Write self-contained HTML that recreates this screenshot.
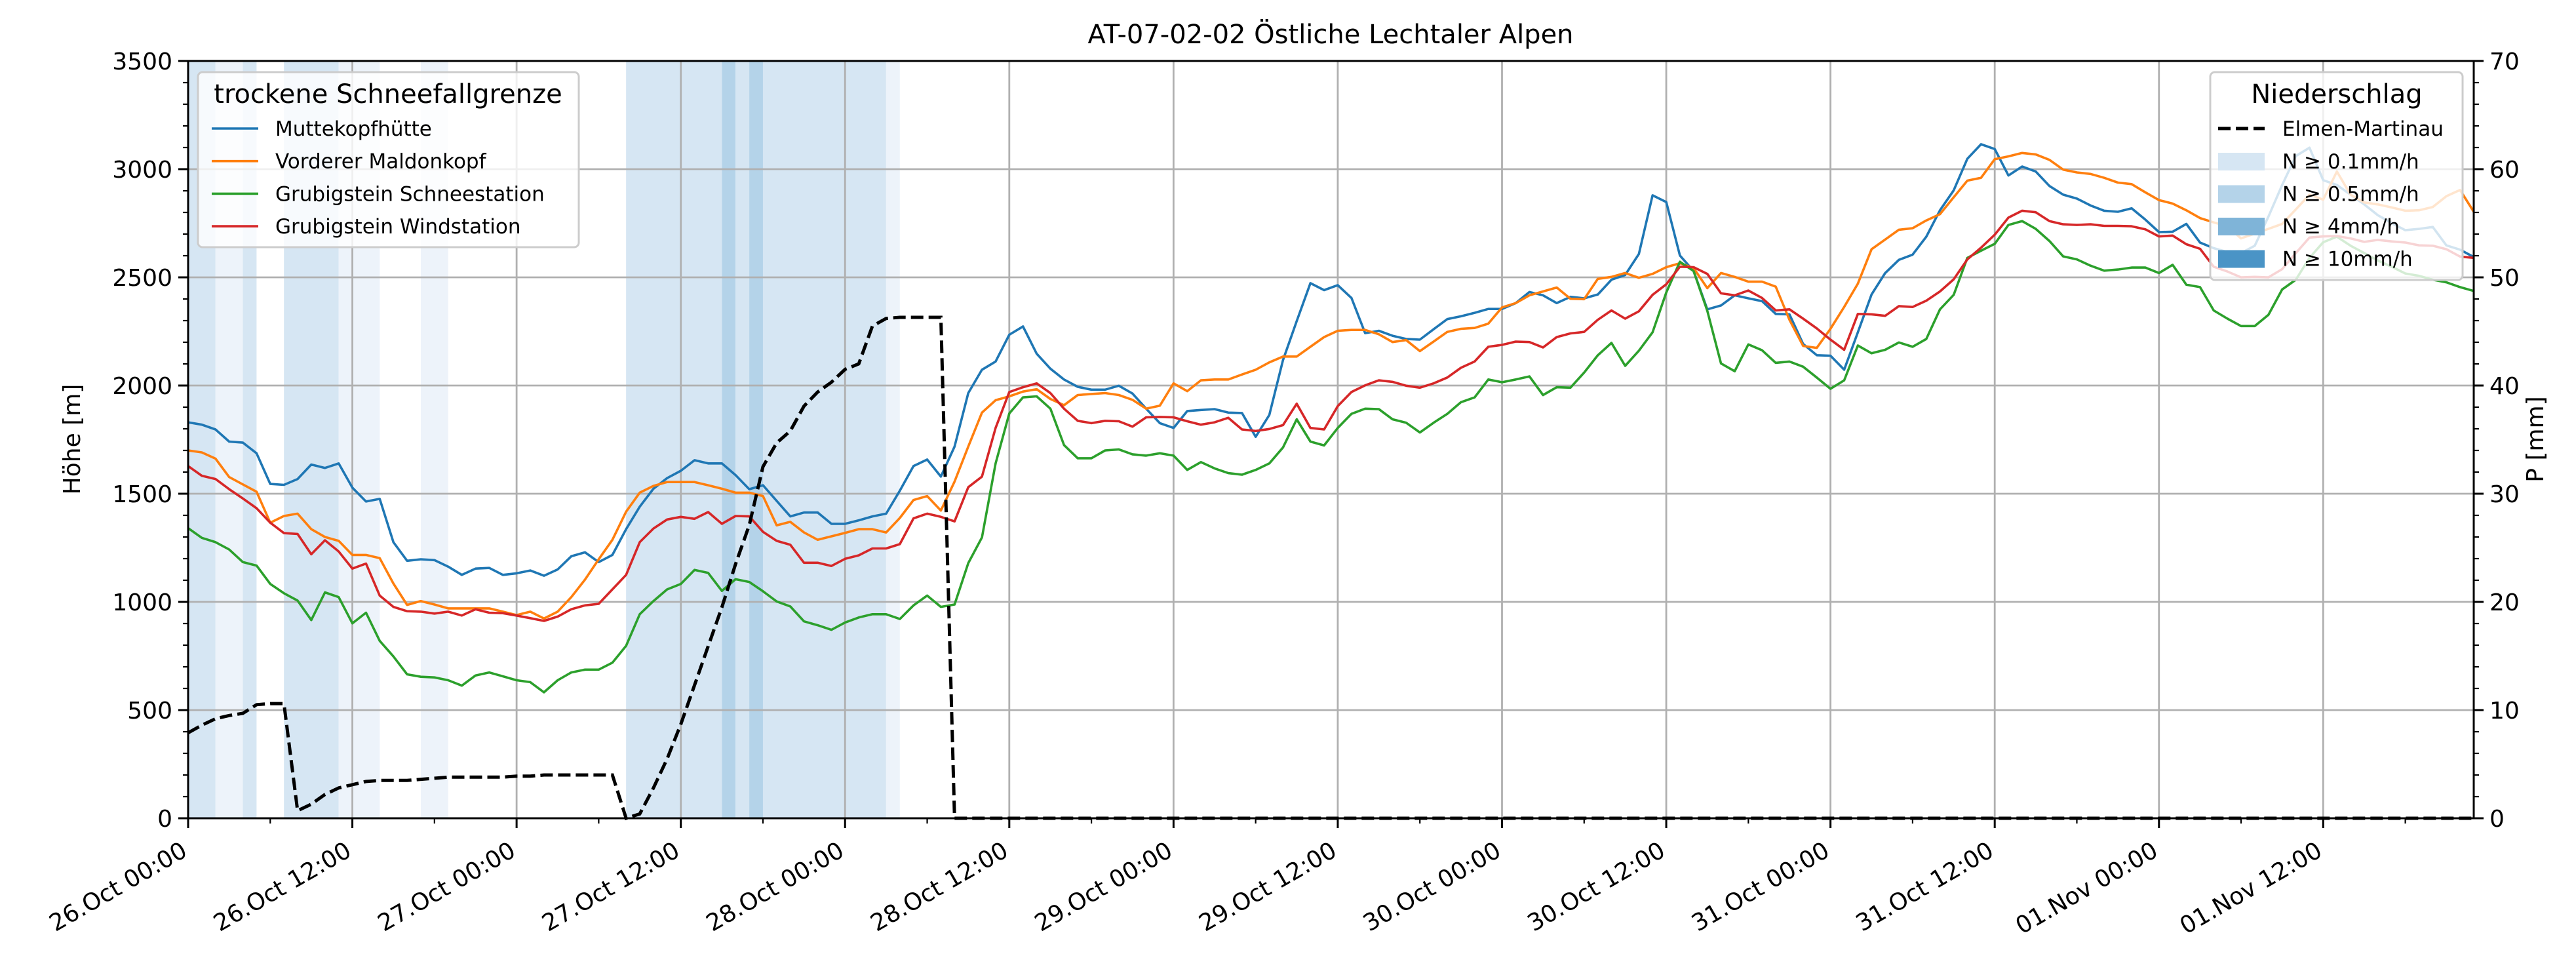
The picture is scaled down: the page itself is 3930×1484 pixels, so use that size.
<!DOCTYPE html>
<html><head><meta charset="utf-8">
<style>
html,body{margin:0;padding:0;background:#fff;}
svg{display:block;font-family:"DejaVu Sans","Liberation Sans",sans-serif;}
</style></head>
<body>
<svg id="chart" width="3930" height="1484" viewBox="0 0 3930 1484" xmlns="http://www.w3.org/2000/svg">
<rect x="0" y="0" width="3930" height="1484" fill="#fff"/>
<text x="2030" y="66" font-size="40" text-anchor="middle">AT-07-02-02 Östliche Lechtaler Alpen</text>
<text transform="translate(122 670) rotate(-90)" font-size="36" text-anchor="middle">Höhe [m]</text>
<text transform="translate(3880 670) rotate(-90)" font-size="36" text-anchor="middle">P [mm]</text>
<g id="bands"></g>
<g id="grid"></g>
<g id="series"></g>
<g id="axes"></g>
<g id="legend1"></g>
<g id="legend2"></g>
</svg>
<script>
// ---- data ----
const xTickLabels = ["26.Oct 00:00","26.Oct 12:00","27.Oct 00:00","27.Oct 12:00","28.Oct 00:00","28.Oct 12:00","29.Oct 00:00","29.Oct 12:00","30.Oct 00:00","30.Oct 12:00","31.Oct 00:00","31.Oct 12:00","01.Nov 00:00","01.Nov 12:00"];
const yTicks = [0,500,1000,1500,2000,2500,3000,3500];
const y2Ticks = [0,10,20,30,40,50,60,70];
const seriesNames = ["Muttekopfhütte","Vorderer Maldonkopf","Grubigstein Schneestation","Grubigstein Windstation"];
const muttekopf = [1830,1819,1797,1741,1736,1687,1545,1541,1568,1635,1619,1640,1528,1464,1476,1276,1190,1197,1193,1163,1125,1154,1157,1125,1132,1145,1121,1150,1211,1229,1184,1217,1336,1440,1523,1572,1606,1655,1640,1640,1586,1521,
1539,1467,1395,1413,1413,1361,1361,1377,1395,1408,1514,1628,1658,1579,1718,1965,2073,2111,2235,2273,2147,2078,2028,1994,1981,1981,1999,1963,1893,1826,1804,1882,1887,1891,1875,1873,1763,1864,2118,2298,2473,2441,2464,
2405,2242,2253,2230,2215,2212,2260,2307,2320,2336,2354,2354,2381,2432,2417,2381,2410,2403,2421,2489,2511,2608,2879,2848,2601,2529,2352,2370,2417,2403,2390,2331,2329,2192,2140,2138,2073,2246,2421,2520,2581,2605,
2688,2810,2902,3048,3115,3093,2971,3012,2989,2922,2882,2864,2832,2808,2803,2819,2767,2709,2711,2747,2661,2635,2617,2612,2646,2781,2927,3061,3099,2949,2927,2882,2837,2787,2751,2718,2724,2733,2648,2628,2594];
const maldonkopf = [1700,1691,1662,1577,1543,1509,1366,1397,1408,1336,1300,1282,1217,1217,1202,1085,986,1004,988,970,970,970,970,955,939,955,923,955,1022,1103,1197,1287,1417,1505,1536,1554,1554,1554,1539,1523,1505,1505,1489,
1354,1370,1321,1287,1303,1319,1336,1336,1321,1388,1471,1489,1422,1556,1718,1875,1932,1950,1972,1983,1938,1909,1956,1961,1965,1956,1934,1893,1907,2010,1974,2024,2028,2028,2051,2073,2107,2134,2134,2179,2224,2253,
2257,2257,2237,2201,2210,2159,2203,2248,2262,2266,2286,2361,2381,2417,2435,2453,2401,2399,2493,2502,2520,2498,2516,2547,2565,2543,2450,2520,2502,2480,2480,2457,2304,2183,2174,2262,2363,2471,2630,2675,2720,2727,
2763,2792,2870,2947,2960,3046,3059,3075,3068,3043,2998,2985,2978,2960,2938,2931,2893,2857,2841,2810,2774,2754,2736,2680,2702,2724,2747,2814,2882,2859,2989,2882,2846,2837,2823,2808,2810,2825,2875,2904,2803];
const schneestation = [1341,1296,1276,1242,1184,1168,1083,1040,1006,916,1044,1022,901,950,820,748,665,654,651,638,613,660,674,656,638,629,582,638,674,687,687,719,797,943,1004,1058,1083,1148,1134,1051,1105,1092,1049,
1002,979,910,892,871,905,928,943,943,921,984,1029,977,988,1179,1298,1640,1871,1945,1950,1893,1725,1664,1664,1700,1705,1682,1676,1687,1676,1610,1646,1617,1595,1588,1610,1640,1714,1844,1741,1723,1804,
1869,1893,1891,1844,1828,1783,1828,1869,1923,1945,2028,2015,2028,2042,1956,1992,1990,2060,2140,2197,2091,2161,2246,2430,2572,2529,2345,2102,2066,2190,2163,2105,2111,2087,2037,1985,2024,2185,2149,2165,2199,2179,
2215,2352,2419,2590,2623,2655,2742,2760,2724,2668,2597,2583,2554,2531,2536,2545,2545,2520,2558,2466,2455,2347,2309,2275,2275,2327,2444,2489,2590,2662,2688,2646,2612,2578,2549,2518,2507,2489,2477,2455,2437];
const windstation = [1628,1583,1568,1521,1478,1433,1366,1318,1314,1220,1285,1233,1154,1177,1029,977,957,955,946,955,937,966,950,948,937,925,912,932,966,984,991,1058,1125,1276,1339,1381,1393,1384,1415,1361,1397,1395,
1324,1282,1264,1181,1181,1166,1199,1215,1247,1247,1267,1386,1408,1393,1372,1530,1579,1804,1970,1992,2010,1965,1893,1837,1826,1837,1835,1810,1853,1855,1853,1835,1819,1830,1851,1797,1790,1799,1817,1916,1804,1797,1905,
1970,2001,2024,2017,1999,1990,2010,2037,2082,2111,2179,2188,2203,2201,2176,2224,2241,2248,2304,2347,2309,2343,2419,2468,2549,2547,2516,2426,2417,2439,2405,2347,2352,2309,2264,2212,2165,2331,2329,2322,2367,2363,
2392,2435,2491,2583,2637,2697,2776,2808,2801,2760,2745,2742,2745,2738,2738,2736,2722,2689,2693,2653,2632,2549,2527,2500,2502,2500,2538,2612,2684,2689,2691,2680,2664,2673,2666,2661,2648,2646,2630,2596,2590];
const precipSum = [7.9,8.6,9.2,9.5,9.7,10.5,10.6,10.6,0.7,1.3,2.2,2.8,3.1,3.4,3.5,3.5,3.5,3.6,3.7,3.8,3.8,3.8,3.8,3.8,3.9,3.9,4.0,4.0,4.0,4.0,4.0,4.0,0.0,0.4,2.8,5.5,8.7,12.3,15.9,19.5,23.5,27.1,32.5,34.7,35.8,38.1,39.4,40.3,41.5,42.0,45.5,46.2,46.3,46.3,46.3,46.3];
const bandStart = [0,2,4,7,11,17,32,39,40,41,42,51];
const bandEnd   = [2,4,5,11,14,19,39,40,41,42,51,52];
const bandLevel = [1,0,1,1,0,0,1,2,1,2,1,0];
const hourCount = 168;

// ---- geometry ----
const L=287,R=3774,T=93,B=1248,HMAX=167;
const NS="http://www.w3.org/2000/svg";
const xS=h=>L+(R-L)*h/HMAX;
const yS=v=>B-(B-T)*v/3500;
const y2S=v=>B-(B-T)*v/70;
function mk(tag,attrs,parent){const e=document.createElementNS(NS,tag);for(const k in attrs)e.setAttribute(k,attrs[k]);parent.appendChild(e);return e;}
const bandColors=["#edf3fa","#d6e6f3","#b4d3e9","#7fb4d8","#4a94c6"];

const gB=document.getElementById('bands');
bandStart.forEach((s,i)=>{
  const r=mk('rect',{x:xS(s),y:T,width:xS(bandEnd[i])-xS(s),height:B-T,fill:bandColors[bandLevel[i]]},gB);
  
  
});

const gG=document.getElementById('grid');
xTickLabels.forEach((t,i)=>{const x=xS(i*12);const l=mk('line',{x1:x,x2:x,y1:T,y2:B,stroke:'#b0b0b0','stroke-width':2.8},gG);

});
yTicks.forEach(v=>{const y=yS(v);const l=mk('line',{x1:L,x2:R,y1:y,y2:y,stroke:'#b0b0b0','stroke-width':2.8},gG);

});

const gS=document.getElementById('series');
const colors=["#1f77b4","#ff7f0e","#2ca02c","#d62728"];
const allSeries=[muttekopf,maldonkopf,schneestation,windstation];
const seriesKeys=["muttekopf","maldonkopf","schneestation","windstation"];
allSeries.forEach((arr,si)=>{
  const d=arr.map((v,h)=>(h?'L':'M')+xS(h).toFixed(1)+' '+yS(v).toFixed(1)).join(' ');
  const p=mk('path',{d:d,fill:'none',stroke:colors[si],'stroke-width':3.6,'stroke-linejoin':'round'},gS);
  
  
});
const pvals=[];for(let h=0;h<hourCount;h++)pvals.push(h<precipSum.length?precipSum[h]:0);
const pd=pvals.map((v,h)=>(h?'L':'M')+xS(h).toFixed(1)+' '+y2S(v).toFixed(1)).join(' ');
const pp=mk('path',{d:pd,fill:'none',stroke:'#000','stroke-width':5,'stroke-dasharray':'19 8'},gS);



const gA=document.getElementById('axes');
const fr=mk('rect',{x:L,y:T,width:R-L,height:B-T,fill:'none',stroke:'#000','stroke-width':3},gA);


for(let v=0;v<=3500;v+=100){const y=yS(v);const maj=v%500===0;mk('line',{x1:L,x2:L-(maj?15:8),y1:y,y2:y,stroke:'#000','stroke-width':maj?3:2.2},gA);}
for(let v=0;v<=70;v+=2){const y=y2S(v);const maj=v%10===0;mk('line',{x1:R,x2:R+(maj?15:8),y1:y,y2:y,stroke:'#000','stroke-width':maj?3:2.2},gA);}
for(let h=0;h<=HMAX;h+=6){const x=xS(h);const maj=h%12===0;mk('line',{x1:x,x2:x,y1:B,y2:B+(maj?15:8),stroke:'#000','stroke-width':maj?3:2.2},gA);}
yTicks.forEach(v=>{const t=mk('text',{x:L-24,y:yS(v)+13,'font-size':36,'text-anchor':'end'},gA);t.textContent=v;

});
y2Ticks.forEach(v=>{const t=mk('text',{x:R+24,y:y2S(v)+13,'font-size':36,'text-anchor':'start'},gA);t.textContent=v;

});
xTickLabels.forEach((s,i)=>{const x=xS(i*12)-12,y=1282;
const t=mk('text',{x:x,y:y,'font-size':36,'text-anchor':'end','dominant-baseline':'hanging',transform:`rotate(-30 ${x} ${y})`},gA);t.textContent=s;

});

// legends
const g1=document.getElementById('legend1');
const b1=mk('rect',{x:302,y:110,width:581,height:267,rx:7,fill:'rgba(255,255,255,0.8)',stroke:'#cccccc','stroke-width':3},g1);


const lt1=mk('text',{x:592,y:157,'font-size':40,'text-anchor':'middle'},g1);lt1.textContent='trockene Schneefallgrenze';


seriesNames.forEach((n,i)=>{const y=196+i*49.7;
const ln=mk('line',{x1:323,x2:394,y1:y,y2:y,stroke:colors[i],'stroke-width':3.6},g1);


const t=mk('text',{x:420,y:y+11,'font-size':31},g1);t.textContent=n;

});

const g2=document.getElementById('legend2');
const b2=mk('rect',{x:3372,y:110,width:385,height:317,rx:7,fill:'rgba(255,255,255,0.8)',stroke:'#cccccc','stroke-width':3},g2);


const lt2=mk('text',{x:3565,y:157,'font-size':40,'text-anchor':'middle'},g2);lt2.textContent='Niederschlag';


const pl=mk('line',{x1:3384,x2:3455,y1:196,y2:196,stroke:'#000','stroke-width':5,'stroke-dasharray':'19 8'},g2);


const e0=mk('text',{x:3482,y:207,'font-size':31},g2);e0.textContent='Elmen-Martinau';


["N ≥ 0.1mm/h","N ≥ 0.5mm/h","N ≥ 4mm/h","N ≥ 10mm/h"].forEach((s,i)=>{const y=246+i*49.5;
const r=mk('rect',{x:3384,y:y-13,width:71,height:27,fill:bandColors[i+1]},g2);


const t=mk('text',{x:3482,y:y+11,'font-size':31},g2);t.textContent=s;

});
</script>
</body></html>
